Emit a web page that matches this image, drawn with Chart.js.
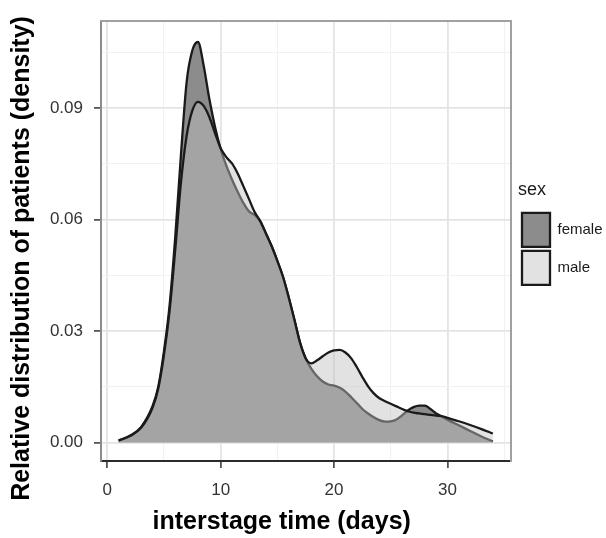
<!DOCTYPE html>
<html><head><meta charset="utf-8">
<script src="https://cdn.jsdelivr.net/npm/chart.js"></script>
<style>html,body{margin:0;padding:0;background:#fff}</style>
</head><body>
<canvas id="c" width="606" height="538"></canvas>
<script>
const DAYS = [1,2,3,4,4.5,5,5.5,6,6.5,7,7.5,8,8.5,9,9.5,10,10.5,11,11.5,12,12.5,13,13.5,14,14.5,15,15.5,16,16.5,17,17.5,18,18.5,19,19.5,20,20.5,21,21.5,22,22.5,23,23.5,24,24.5,25,25.5,26,26.5,27,27.5,28,28.5,29,29.5,30,31,32,33,34];
const FEMALE = [0.0005,0.0018,0.0042,0.0098,0.0150,0.0245,0.0370,0.0555,0.0775,0.0970,0.1055,0.1078,0.1015,0.0925,0.0850,0.0790,0.0745,0.0708,0.0675,0.0645,0.0622,0.0612,0.0595,0.0562,0.0528,0.0488,0.0445,0.0390,0.0330,0.0268,0.0226,0.0198,0.0178,0.0164,0.0156,0.0153,0.0147,0.0137,0.0122,0.0106,0.0090,0.0078,0.0068,0.0060,0.0056,0.0057,0.0062,0.0073,0.0086,0.0095,0.0099,0.0099,0.0090,0.0078,0.0070,0.0061,0.0046,0.0031,0.0016,0.0003];
const MALE = [0.0005,0.0017,0.0040,0.0094,0.0145,0.0235,0.0355,0.0520,0.0700,0.0825,0.0893,0.0917,0.0906,0.0876,0.0833,0.0792,0.0768,0.0751,0.0724,0.0690,0.0655,0.0620,0.0595,0.0562,0.0528,0.0489,0.0446,0.0391,0.0331,0.0269,0.0226,0.0213,0.0221,0.0232,0.0242,0.0248,0.0249,0.0242,0.0227,0.0203,0.0176,0.0151,0.0132,0.0119,0.0111,0.0104,0.0097,0.0090,0.0084,0.0080,0.0078,0.0076,0.0074,0.0072,0.0071,0.0066,0.0057,0.0047,0.0036,0.0024];
const SERIES_NAMES = ['female','male'];
const X_MAJOR = [0,10,20,30];
const X_MINOR = [5,15,25,35];
const X_LABELS = ['0','10','20','30'];
const Y_MAJOR = [0,0.03,0.06,0.09];
const Y_MINOR = [0.015,0.045,0.075,0.105];
const Y_LABELS = ['0.00','0.03','0.06','0.09'];

const FONT = '"Liberation Sans", Arial, Helvetica, sans-serif';
const pts = ys => DAYS.map((d,i) => ({x:d, y:ys[i]}));
const near = (arr, v) => arr.findIndex(a => Math.abs(a - v) < 1e-9);
const buildTicks = (major, minor) => s => { s.ticks = major.concat(minor).sort((a,b)=>a-b).map(v => ({value:v})); };
const isMajor = (arr) => c => c.tick && near(arr, c.tick.value) >= 0;

function gridOpts(major){
  const m = isMajor(major);
  return {
    color: c => m(c) ? '#e4e4e4' : '#f1f1f1',
    lineWidth: c => m(c) ? 1.8 : 1,
    tickColor: c => m(c) ? '#333333' : 'rgba(0,0,0,0)',
    tickLength: 7,
    tickWidth: 1.5
  };
}

const chart = new Chart(document.getElementById('c'), {
  type: 'line',
  data: { datasets: [
    { label: SERIES_NAMES[0], data: pts(FEMALE), order: 2, fill: 'origin',
      backgroundColor: '#8c8c8c', borderColor: '#1a1a1a', borderWidth: 2.3,
      pointRadius: 0, cubicInterpolationMode: 'monotone' },
    { label: SERIES_NAMES[1], data: pts(MALE), order: 1, fill: 'origin',
      backgroundColor: 'rgba(192,192,192,0.46)', borderColor: '#1a1a1a', borderWidth: 2.3,
      pointRadius: 0, cubicInterpolationMode: 'monotone' }
  ]},
  options: {
    responsive: false, animation: false, devicePixelRatio: 1,
    layout: { padding: { top: 10, left: 0, right: 0, bottom: 0 } },
    plugins: {
      tooltip: { enabled: false },
      legend: {
        position: 'right', align: 'start', fullSize: false, maxWidth: 88,
        title: { display: true, text: 'sex', position: 'start', color: '#1a1a1a',
                 font: { family: FONT, size: 18 }, padding: { top: 160, bottom: 6 } },
        labels: { boxWidth: 28, boxHeight: 34, padding: 4, color: '#1a1a1a',
                  font: { family: FONT, size: 15 },
                  sort: (a, b) => a.datasetIndex - b.datasetIndex }
      }
    },
    scales: {
      x: {
        type: 'linear', position: 'bottom', min: -0.55, max: 35.6,
        afterBuildTicks: buildTicks(X_MAJOR, X_MINOR),
        afterFit: s => { s.height = 77; },
        ticks: { autoSkip: false, maxRotation: 0, padding: 12, color: '#333333',
                 font: { family: FONT, size: 17 },
                 callback: v => { const i = near(X_MAJOR, v); return i < 0 ? '' : X_LABELS[i]; } },
        grid: gridOpts(X_MAJOR),
        border: { color: '#2b2b2b', width: 2 },
        title: { display: true, text: 'interstage time (days)       ', color: '#000',
                 font: { family: FONT, size: 25, weight: 'bold' }, padding: { top: 0, bottom: 1 } }
      },
      y: {
        type: 'linear', position: 'left', min: -0.0050, max: 0.1134,
        afterBuildTicks: buildTicks(Y_MAJOR, Y_MINOR),
        afterFit: s => { s.width = 101; },
        ticks: { autoSkip: false, padding: 11, color: '#333333',
                 font: { family: FONT, size: 17 },
                 callback: v => { const i = near(Y_MAJOR, v); return i < 0 ? '' : Y_LABELS[i]; } },
        grid: gridOpts(Y_MAJOR),
        border: { color: '#8c8c8c', width: 2 },
        title: { display: true, text: 'Relative distribution of patients (density)     ', color: '#000',
                 font: { family: FONT, size: 25, weight: 'bold' }, padding: { top: 7, bottom: 0 } }
      },
      x2: {
        type: 'linear', position: 'top', min: 0, max: 1,
        afterFit: s => { s.height = 0; },
        ticks: { display: false }, grid: { display: false, drawTicks: false },
        border: { display: true, color: '#a0a0a0', width: 2 }
      },
      y2: {
        type: 'linear', position: 'right', min: 0, max: 1,
        afterFit: s => { s.width = 7; },
        ticks: { display: false }, grid: { display: false, drawTicks: false },
        border: { display: true, color: '#a0a0a0', width: 2 }
      }
    }
  }
});
chart.options.layout.padding.right = Math.max(0, 88 - chart.legend.width);
chart.update();
</script>
</body></html>
